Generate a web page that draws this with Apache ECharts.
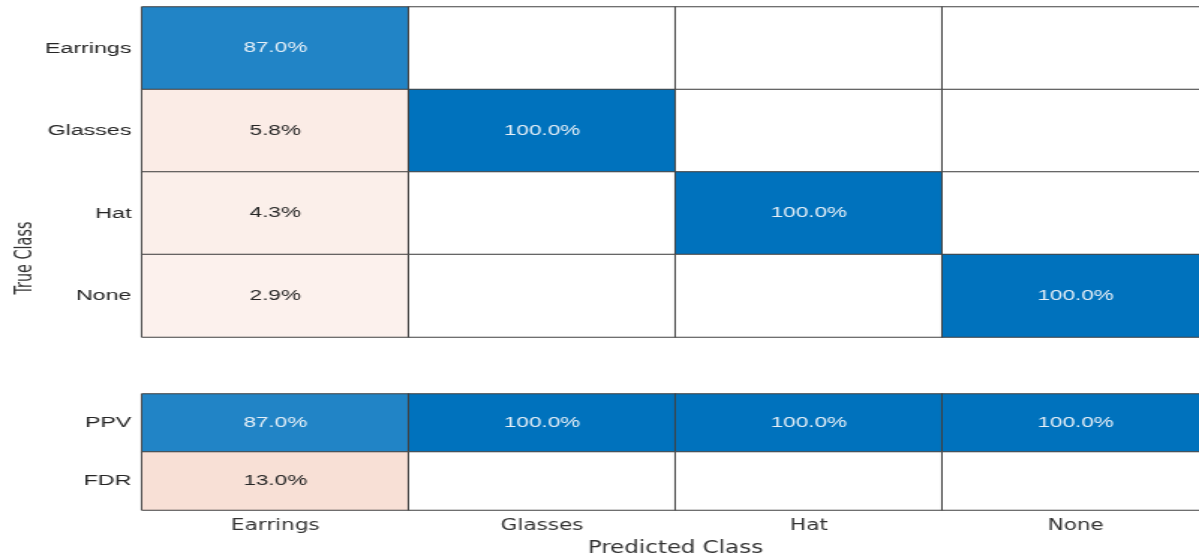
<!DOCTYPE html>
<html>
<head>
<meta charset="utf-8">
<script src="https://cdn.jsdelivr.net/npm/echarts@6/dist/echarts.min.js"></script>
<style>
  html, body { margin: 0; padding: 0; background: #fff; overflow: hidden; }
  #wrap { width: 1199px; height: 554px; overflow: hidden; position: relative; }
  /* the figure is laid out on a narrower canvas and stretched horizontally */
  #chart { width: 800px; height: 554px; transform: scaleX(1.49875); transform-origin: 0 0; }
</style>
</head>
<body>
<div id="wrap"><div id="chart"></div></div>
<script>
// Class names (columns = predicted, rows = true)
const classes = ['Earrings', 'Glasses', 'Hat', 'None'];
// Column-normalized confusion matrix, in percent (rows = true class)
const earringsRow = [87.0, 0, 0, 0];
const glassesRow  = [5.8, 100.0, 0, 0];
const hatRow      = [4.3, 0, 100.0, 0];
const noneRow     = [2.9, 0, 0, 100.0];
// Column summary rows
const summaryRows = ['PPV', 'FDR'];
const ppvValues = [87.0, 100.0, 100.0, 100.0];
const fdrValues = [13.0, 0, 0, 0];

const matrixRows = [earringsRow, glassesRow, hatRow, noneRow];

const BLUE = [0, 114, 189];
const ORANGE = [217, 83, 25];
function mix(rgb, t) {
  const c = rgb.map(v => Math.round(255 + (v - 255) * t));
  return 'rgb(' + c.join(',') + ')';
}
function cellColor(v, good) {
  if (v <= 0) return '#ffffff';
  return good ? mix(BLUE, v / 100) : mix(ORANGE, 0.05 + 0.01 * v);
}
function cell(x, y, v, good) {
  return {
    value: [x, y, v],
    itemStyle: { color: cellColor(v, good) },
    label: { color: good && v > 0 ? '#e6f0f8' : '#262626' }
  };
}

const matrixData = [];
matrixRows.forEach((row, r) => row.forEach((v, c) => matrixData.push(cell(c, r, v, r === c))));
const summaryData = [];
ppvValues.forEach((v, c) => summaryData.push(cell(c, 0, v, true)));
fdrValues.forEach((v, c) => summaryData.push(cell(c, 1, v, false)));

const tickFont = "'DejaVu Sans Condensed', 'Liberation Sans', sans-serif";
const baseFont = "'Liberation Sans', Arial, sans-serif";

const hidden = { axisLine: { show: false }, axisTick: { show: false }, splitLine: { show: false }, splitArea: { show: false } };

const cellLabel = {
  show: true,
  fontFamily: baseFont,
  fontSize: 15,
  formatter: p => p.value[2] > 0 ? p.value[2].toFixed(1) + '%' : ''
};
const cellStyle = { borderColor: '#404040', borderWidth: 1 };

const chart = echarts.init(document.getElementById('chart'), null, { renderer: 'canvas' });
chart.setOption({
  animation: false,
  backgroundColor: '#ffffff',
  grid: [
    { left: 94.7, top: 7, width: 712, height: 330, outerBoundsMode: 'none', containLabel: false },
    { left: 94.7, top: 394, width: 712, height: 116, outerBoundsMode: 'none', containLabel: false }
  ],
  xAxis: [
    Object.assign({ type: 'category', data: classes, gridIndex: 0, axisLabel: { show: false } }, hidden),
    Object.assign({
      type: 'category', data: classes, gridIndex: 1,
      axisLabel: { fontFamily: tickFont, fontSize: 16, color: '#333333', margin: 8 },
      name: 'Predicted Class', nameLocation: 'middle', nameGap: 30,
      nameTextStyle: { fontFamily: tickFont, fontSize: 17, color: '#333333' }
    }, hidden)
  ],
  yAxis: [
    Object.assign({
      type: 'category', data: classes, gridIndex: 0, inverse: true,
      axisLabel: { fontFamily: baseFont, fontSize: 15.5, color: '#262626', margin: 7 }
    }, hidden),
    Object.assign({
      type: 'category', data: summaryRows, gridIndex: 1, inverse: true,
      axisLabel: { fontFamily: baseFont, fontSize: 15.5, color: '#262626', margin: 7 }
    }, hidden)
  ],
  graphic: [{
    type: 'text',
    x: 16.5, y: 258,
    rotation: Math.PI / 2,
    style: {
      text: 'True Class',
      fontFamily: tickFont, fontSize: 16, fill: '#333333',
      align: 'center', verticalAlign: 'middle'
    }
  }],
  series: [
    {
      type: 'heatmap', xAxisIndex: 0, yAxisIndex: 0,
      data: matrixData, label: cellLabel, itemStyle: cellStyle,
      emphasis: { disabled: true }
    },
    {
      type: 'heatmap', xAxisIndex: 1, yAxisIndex: 1,
      data: summaryData, label: cellLabel, itemStyle: cellStyle,
      emphasis: { disabled: true }
    }
  ]
});
</script>
</body>
</html>
